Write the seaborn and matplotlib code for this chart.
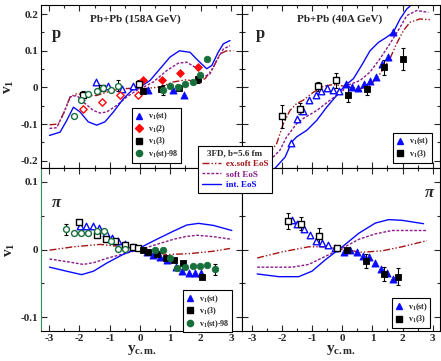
import seaborn as sns
import matplotlib.pyplot as plt
from matplotlib.lines import Line2D
from matplotlib.ticker import MultipleLocator

# ---- data: curves (y_cm, v1) ----
p158_exsoft = [(-2.99, -0.102), (-2.7, -0.100), (-2.48, -0.063), (-2.31, -0.026), (-2.09, -0.017),
               (-1.76, -0.022), (-1.43, -0.022), (-1.1, -0.013), (-0.66, -0.004), (-0.22, -0.002),
               (0.0, -0.004), (0.66, 0.001), (1.1, 0.015), (1.54, 0.021), (1.87, 0.015), (2.15, 0.024),
               (2.42, 0.055), (2.64, 0.092), (2.86, 0.100), (3.08, 0.100)]
p158_soft = [(-2.99, -0.112), (-2.75, -0.110), (-2.53, -0.072), (-2.31, -0.026), (-2.09, -0.022),
             (-1.87, -0.040), (-1.54, -0.063), (-1.32, -0.070), (-1.1, -0.067), (-0.77, -0.049),
             (-0.44, -0.026), (-0.11, -0.008), (0.0, -0.004), (0.44, 0.015), (0.88, 0.046), (1.26, 0.066),
             (1.54, 0.069), (1.82, 0.055), (2.09, 0.028), (2.31, 0.037), (2.53, 0.073), (2.75, 0.105),
             (2.97, 0.114)]
p158_int = [(-2.99, -0.131), (-2.64, -0.122), (-2.42, -0.090), (-2.2, -0.054), (-1.98, -0.067),
            (-1.71, -0.094), (-1.43, -0.103), (-1.16, -0.094), (-0.88, -0.067), (-0.55, -0.031),
            (-0.27, -0.008), (0.0, 0.001), (0.33, 0.019), (0.66, 0.051), (0.99, 0.083), (1.3, 0.100),
            (1.65, 0.096), (1.92, 0.073), (2.2, 0.051), (2.37, 0.060), (2.58, 0.096), (2.75, 0.119),
            (2.97, 0.128)]

p40_exsoft = [(-2.51, -0.190), (-2.18, -0.153), (-1.96, -0.099), (-1.74, -0.063), (-1.52, -0.044),
              (-1.3, -0.035), (-0.96, -0.013), (-0.63, 0.003), (-0.3, 0.008), (0.15, 0.002), (0.59, -0.004),
              (0.92, 0.005), (1.25, 0.037), (1.58, 0.078), (1.8, 0.119), (2.03, 0.155), (2.25, 0.178),
              (2.58, 0.187), (2.91, 0.185)]
p40_soft = [(-2.51, -0.208), (-2.07, -0.171), (-1.85, -0.135), (-1.52, -0.099), (-1.3, -0.085),
            (-0.85, -0.063), (-0.41, -0.035), (0.03, -0.008), (0.09, 0.003), (0.59, 0.019), (0.92, 0.042),
            (1.25, 0.078), (1.58, 0.119), (1.92, 0.164), (2.14, 0.196), (2.47, 0.210), (2.86, 0.205)]
p40_int = [(-2.24, -0.221), (-1.9, -0.190), (-1.68, -0.149), (-1.52, -0.135), (-1.18, -0.117),
           (-0.85, -0.090), (-0.52, -0.054), (-0.19, -0.022), (0.09, 0.005), (0.37, 0.024), (0.64, 0.060),
           (0.92, 0.100), (1.2, 0.123), (1.47, 0.137), (1.69, 0.150), (1.92, 0.187), (2.14, 0.214),
           (2.25, 0.222)]

pi158_exsoft = [(-2.99, -0.001), (-2.2, 0.004), (-1.32, 0.0075), (-0.55, 0.004), (0.0, 0.0), (0.88, -0.0075),
                (1.65, -0.006), (2.42, -0.0025), (2.97, 0.0015)]
pi158_soft = [(-2.99, -0.014), (-2.4, -0.018), (-1.87, -0.022), (-1.5, -0.019), (-1.1, -0.013), (0.0, 0.000),
              (1.1, 0.015), (1.5, 0.019), (1.87, 0.021), (2.4, 0.019), (3.03, 0.015)]
pi158_int = [(-2.99, -0.026), (-2.42, -0.032), (-1.93, -0.037), (-1.54, -0.032), (-1.1, -0.020),
             (-0.55, -0.007), (0.0, 0.0025), (0.55, 0.015), (1.1, 0.027), (1.54, 0.036), (1.93, 0.0385),
             (2.42, 0.0355), (3.03, 0.028)]

pi40_exsoft = [(-2.83, -0.0125), (-2.0, -0.0035), (-1.12, 0.004), (-0.56, 0.004), (0.0, 0.0), (0.65, -0.004),
               (1.32, -0.002), (1.98, 0.004), (2.81, 0.013)]
pi40_soft = [(-2.83, -0.026), (-1.67, -0.026), (-1.12, -0.022), (-0.56, -0.010), (0.0, 0.002), (0.55, 0.015),
             (1.1, 0.023), (1.65, 0.028), (2.81, 0.028)]
pi40_int = [(-2.83, -0.036), (-2.11, -0.040), (-1.45, -0.040), (-1.01, -0.032), (-0.56, -0.015), (0.0, 0.004),
            (0.55, 0.024), (1.1, 0.039), (1.54, 0.044), (1.98, 0.043), (2.7, 0.038)]

# ---- data points (y_cm, v1, error) ; open = reflected ----
p158_st_open = [(-1.45, 0.016, 0), (-1.05, 0.003, 0), (-0.6, -0.004, 0), (-0.22, 0.003, 0)]
p158_st_fill = [(0.27, -0.006, 0), (1.08, -0.006, 0), (1.46, -0.020, 0)]
p158_v2_open = [(-1.87, -0.058, 0), (-1.26, -0.040, 0), (-0.66, -0.022, 0), (-0.08, -0.020, 0)]
p158_v2_fill = [(0.11, 0.019, 0), (0.72, 0.021, 0), (1.32, 0.039, 0), (1.90, 0.057, 0)]
p158_v3_open = [(-1.87, -0.022, 0.012), (-1.26, -0.001, 0), (-0.05, 0.010, 0.010)]
p158_v3_fill = [(0.09, -0.010, 0), (0.69, -0.004, 0), (1.29, -0.002, 0), (1.90, 0.022, 0.010)]
p158_98_open = [(-2.18, -0.079, 0), (-1.95, -0.035, 0), (-1.71, -0.017, 0), (-1.43, -0.010, 0),
                (-1.21, -0.002, 0), (-0.97, -0.008, 0), (-0.72, 0.005, 0.015)]
p158_98_fill = [(0.77, -0.008, 0.014), (0.99, 0.005, 0), (1.26, 0.000, 0), (1.49, 0.010, 0),
                (1.74, 0.016, 0), (1.98, 0.033, 0), (2.20, 0.078, 0)]

p40_st_open = [(-1.71, -0.151, 0), (-1.52, -0.085, 0), (-1.29, -0.065, 0), (-1.10, -0.034, 0), (-0.89, -0.020, 0),
               (-0.71, -0.010, 0), (-0.50, -0.002, 0), (-0.30, -0.006, 0), (-0.10, -0.010, 0)]
p40_st_fill = [(0.12, 0.008, 0), (0.31, 0.001, 0), (0.51, -0.001, 0), (0.72, 0.010, 0), (0.92, 0.017, 0),
               (1.11, 0.028, 0), (1.33, 0.064, 0), (1.53, 0.082, 0), (1.69, 0.151, 0)]
p40_v3_open = [(-2.01, -0.079, 0.032), (-1.41, -0.058, 0.015), (-0.82, 0.003, 0.013), (-0.21, 0.019, 0.020)]
p40_v3_fill = [(0.20, -0.020, 0.020), (0.81, -0.005, 0.015), (1.40, 0.055, 0.020), (2.01, 0.078, 0.030)]

pi158_st_open = [(-1.98, 0.034, 0), (-1.78, 0.035, 0), (-1.56, 0.034, 0), (-1.34, 0.031, 0), (-1.13, 0.025, 0),
                 (-0.93, 0.017, 0), (-0.72, 0.012, 0), (-0.50, 0.008, 0), (-0.24, 0.003, 0)]
pi158_st_fill = [(0.22, -0.003, 0), (0.44, -0.008, 0), (0.66, -0.011, 0), (0.88, -0.016, 0), (1.18, -0.026, 0),
                 (1.40, -0.031, 0), (1.62, -0.035, 0), (1.82, -0.035, 0), (2.00, -0.035, 0)]
pi158_v3_open = [(-2.01, 0.040, 0), (-1.43, 0.021, 0), (-1.12, 0.016, 0), (-0.83, 0.013, 0), (-0.50, 0.006, 0),
                 (-0.22, 0.003, 0), (-0.06, 0.002, 0)]
pi158_v3_fill = [(0.11, -0.001, 0), (0.25, -0.003, 0), (0.55, -0.006, 0), (0.85, -0.012, 0), (1.13, -0.016, 0),
                 (1.43, -0.020, 0), (2.04, -0.040, 0)]
pi158_98_open = [(-2.44, 0.030, 0.008), (-2.18, 0.024, 0), (-1.96, 0.025, 0), (-1.71, 0.025, 0), (-1.43, 0.027, 0),
                 (-1.19, 0.027, 0), (-0.97, 0.013, 0), (-0.72, 0.001, 0), (-0.50, 0.001, 0)]
pi158_98_fill = [(0.50, 0.000, 0), (0.75, -0.001, 0), (0.99, -0.012, 0), (1.23, -0.027, 0), (1.49, -0.026, 0),
                 (1.74, -0.024, 0), (1.98, -0.024, 0), (2.22, -0.023, 0), (2.48, -0.029, 0.008)]

pi40_st_open = [(-1.68, 0.044, 0), (-1.49, 0.037, 0), (-1.27, 0.030, 0), (-1.07, 0.021, 0), (-0.87, 0.012, 0),
                (-0.66, 0.010, 0), (-0.46, 0.006, 0), (-0.24, 0.002, 0)]
pi40_st_fill = [(0.06, -0.004, 0), (0.26, -0.001, 0), (0.48, -0.004, 0), (0.68, -0.009, 0), (0.89, -0.011, 0),
                (1.09, -0.020, 0), (1.29, -0.029, 0), (1.47, -0.035, 0), (1.67, -0.043, 0)]
pi40_v3_open = [(-1.81, 0.042, 0.012), (-1.38, 0.038, 0.010), (-0.76, 0.020, 0.012), (-0.17, 0.0015, 0)]
pi40_v3_fill = [(0.17, 0.000, 0), (0.78, -0.017, 0.010), (1.39, -0.036, 0.010), (1.84, -0.040, 0.013)]

x_ticks = [-3, -2, -1, 0, 1, 2, 3]

BLUE = '#0a0aff'
RED = '#ff0a0a'
BLACK = '#000000'
GREEN = '#17703c'
PURPLE = '#8b1a8b'
DRED = '#a51515'

sns.set_theme(style="ticks")
plt.rcParams['font.family'] = ['Liberation Serif', 'DejaVu Serif']
plt.rcParams['font.weight'] = 'bold'
plt.rcParams['mathtext.fontset'] = 'custom'
plt.rcParams['mathtext.rm'] = 'Liberation Serif:bold'
plt.rcParams['mathtext.bf'] = 'Liberation Serif:bold'
plt.rcParams['mathtext.it'] = 'Liberation Serif:italic:bold'

fig = plt.figure(figsize=(4.41, 3.61), dpi=100)
ax_tl = fig.add_axes([0.093, 0.5346, 0.456, 0.4515])
ax_tr = fig.add_axes([0.549, 0.5346, 0.449, 0.4515])
ax_bl = fig.add_axes([0.093, 0.0831, 0.456, 0.4515])
ax_br = fig.add_axes([0.549, 0.0831, 0.449, 0.4515])

DASHDOT = (0, (5, 1.5, 1, 1.5, 1, 1.5))
DOTTED = (0, (2, 1.2))


def curves(ax, exsoft, soft, intl):
    for pts, c, ls in [(exsoft, DRED, DASHDOT), (soft, PURPLE, DOTTED), (intl, BLUE, '-')]:
        sns.lineplot(x=[p[0] for p in pts], y=[p[1] for p in pts], ax=ax, color=c,
                     linewidth=1.0, linestyle=ls, sort=False, estimator=None, zorder=2)


def points(ax, pts, marker, c, s, filled):
    xs = [p[0] for p in pts]
    ys = [p[1] for p in pts]
    err = [(p[0], p[1], p[2]) for p in pts if p[2] > 0]
    if err:
        ax.errorbar([e[0] for e in err], [e[1] for e in err], yerr=[e[2] for e in err],
                    fmt='none', ecolor=BLACK, elinewidth=0.8, capsize=1.6, capthick=0.8, zorder=3)
    sns.scatterplot(x=xs, y=ys, ax=ax, marker=marker, s=s, color=c,
                    facecolor=c if filled else 'white', edgecolor=c,
                    linewidth=0.6 if filled else 1.0, zorder=4, legend=False)


# p, 158A
curves(ax_tl, p158_exsoft, p158_soft, p158_int)
points(ax_tl, p158_st_open, '^', BLUE, 22, False)
points(ax_tl, p158_st_fill, '^', BLUE, 26, True)
points(ax_tl, p158_v2_open, 'D', RED, 14, False)
points(ax_tl, p158_v2_fill, 'D', RED, 16, True)
points(ax_tl, p158_v3_open, 's', BLACK, 16, False)
points(ax_tl, p158_v3_fill, 's', BLACK, 20, True)
points(ax_tl, p158_98_open, 'o', GREEN, 18, False)
points(ax_tl, p158_98_fill, 'o', GREEN, 22, True)

# p, 40A
curves(ax_tr, p40_exsoft, p40_soft, p40_int)
points(ax_tr, p40_st_open, '^', BLUE, 22, False)
points(ax_tr, p40_st_fill, '^', BLUE, 26, True)
points(ax_tr, p40_v3_open, 's', BLACK, 16, False)
points(ax_tr, p40_v3_fill, 's', BLACK, 20, True)

# pi, 158A
curves(ax_bl, pi158_exsoft, pi158_soft, pi158_int)
points(ax_bl, pi158_st_open, '^', BLUE, 22, False)
points(ax_bl, pi158_st_fill, '^', BLUE, 26, True)
points(ax_bl, pi158_v3_open, 's', BLACK, 16, False)
points(ax_bl, pi158_v3_fill, 's', BLACK, 20, True)
points(ax_bl, pi158_98_open, 'o', GREEN, 18, False)
points(ax_bl, pi158_98_fill, 'o', GREEN, 22, True)

# pi, 40A
curves(ax_br, pi40_exsoft, pi40_soft, pi40_int)
points(ax_br, pi40_st_open, '^', BLUE, 22, False)
points(ax_br, pi40_st_fill, '^', BLUE, 26, True)
points(ax_br, pi40_v3_open, 's', BLACK, 16, False)
points(ax_br, pi40_v3_fill, 's', BLACK, 20, True)

# axes styling
for ax in (ax_tl, ax_tr, ax_bl, ax_br):
    ax.set_xticks(x_ticks)
    ax.xaxis.set_minor_locator(MultipleLocator(0.5))
    ax.yaxis.set_minor_locator(MultipleLocator(0.05))
    ax.tick_params(which='both', direction='in', top=True, right=True, labelsize=8, pad=2)
    ax.tick_params(which='major', length=4, width=0.8)
    ax.tick_params(which='minor', length=2, width=0.8)
    for sp in ax.spines.values():
        sp.set_linewidth(0.8)
        sp.set_color('black')
    ax.set_xlabel('')
    ax.set_ylabel('')

ax_tl.set_xlim(-3.27, 3.37)
ax_bl.set_xlim(-3.27, 3.37)
ax_tr.set_xlim(-3.33, 3.25)
ax_br.set_xlim(-3.33, 3.25)
for ax in (ax_tl, ax_tr):
    ax.set_ylim(-0.22, 0.225)
    ax.set_yticks([-0.2, -0.1, 0, 0.1, 0.2])
    ax.tick_params(labelbottom=False)
for ax in (ax_bl, ax_br):
    ax.set_ylim(-0.12, 0.12)
    ax.set_yticks([-0.1, 0, 0.1])
ax_tr.tick_params(labelleft=False)
ax_br.tick_params(labelleft=False)
ax_tl.set_yticklabels(['-0.2', '-0.1', '0', '0.1', '0.2'], fontweight='bold')
ax_bl.set_yticklabels(['-0.1', '0', '0.1'], fontweight='bold')
ax_bl.set_xticklabels([str(t) for t in x_ticks], fontweight='bold')
ax_br.set_xticklabels([str(t) for t in x_ticks], fontweight='bold')
ax_bl.spines['left'].set_color('#2e8b57')

for ax in (ax_tl, ax_bl):
    ax.set_ylabel(r'$\mathbf{v_1}$', fontsize=11, labelpad=3)
for ax in (ax_bl, ax_br):
    ax.set_xlabel(r'$\mathbf{y_{c.m.}}$', fontsize=11, labelpad=0)

# panel labels and titles
ax_tl.text(0.055, 0.80, 'p', transform=ax_tl.transAxes, fontsize=12, fontweight='bold')
ax_tr.text(0.07, 0.80, 'p', transform=ax_tr.transAxes, fontsize=12, fontweight='bold')
ax_bl.text(0.05, 0.76, r'$\pi$', transform=ax_bl.transAxes, fontsize=12)
ax_br.text(0.92, 0.82, r'$\pi$', transform=ax_br.transAxes, fontsize=12)
ax_tl.text(0.47, 0.91, 'Pb+Pb (158A GeV)', transform=ax_tl.transAxes, fontsize=8,
           fontweight='bold', ha='center', va='center')
ax_tr.text(0.495, 0.91, 'Pb+Pb (40A GeV)', transform=ax_tr.transAxes, fontsize=8,
           fontweight='bold', ha='center', va='center')


def mk(marker, c, label, ms):
    return Line2D([], [], marker=marker, color=c, ls='none', markersize=ms, label=label)


h_st = mk('^', BLUE, r'$\mathbf{v_1}$(st)', 5)
h_v2 = mk('D', RED, r'$\mathbf{v_1}$(2)', 3.8)
h_v3 = mk('s', BLACK, r'$\mathbf{v_1}$(3)', 4.2)
h_98 = mk('o', GREEN, r'$\mathbf{v_1}$(st)-98', 4.5)

leg_kw = dict(frameon=True, fancybox=False, edgecolor='black', framealpha=1, fontsize=5.8,
              handlelength=1.0, handletextpad=0.6, labelspacing=0.1, borderpad=0.35, borderaxespad=0)
l1 = ax_tl.legend(handles=[h_st, h_v2, h_v3, h_98], loc='upper left', bbox_to_anchor=(0.453, 0.368), **leg_kw)
l2 = ax_tr.legend(handles=[h_st, h_v3], loc='upper left', bbox_to_anchor=(0.763, 0.215), **leg_kw)
l3 = ax_bl.legend(handles=[h_st, h_v3, h_98], loc='upper left', bbox_to_anchor=(0.706, 0.25), **leg_kw)
l4 = ax_br.legend(handles=[h_st, h_v3], loc='upper left', bbox_to_anchor=(0.757, 0.20), **leg_kw)
for lg in (l1, l2, l3, l4):
    lg.get_frame().set_linewidth(0.8)

# model legend spanning the panels
h_ex = Line2D([], [], color=DRED, linestyle=DASHDOT, linewidth=1.0, label='ex.soft EoS')
h_so = Line2D([], [], color=PURPLE, linestyle=DOTTED, linewidth=1.0, label='soft EoS')
h_in = Line2D([], [], color=BLUE, linestyle='-', linewidth=1.0, label='int. EoS')
fl = fig.legend(handles=[h_ex, h_so, h_in], title='3FD, b=5.6 fm', loc='upper left',
                bbox_to_anchor=(0.449, 0.596), frameon=True, fancybox=False, edgecolor='black',
                framealpha=1, fontsize=6.5, title_fontsize=6.5, handlelength=2.2, handletextpad=0.5,
                labelspacing=0.25, borderpad=0.4, borderaxespad=0)
fl.get_frame().set_linewidth(0.8)
fl.get_title().set_fontweight('bold')
for t, c in zip(fl.get_texts(), [DRED, PURPLE, BLUE]):
    t.set_color(c)
    t.set_fontweight('bold')

fig.savefig('out.png', dpi=100)
